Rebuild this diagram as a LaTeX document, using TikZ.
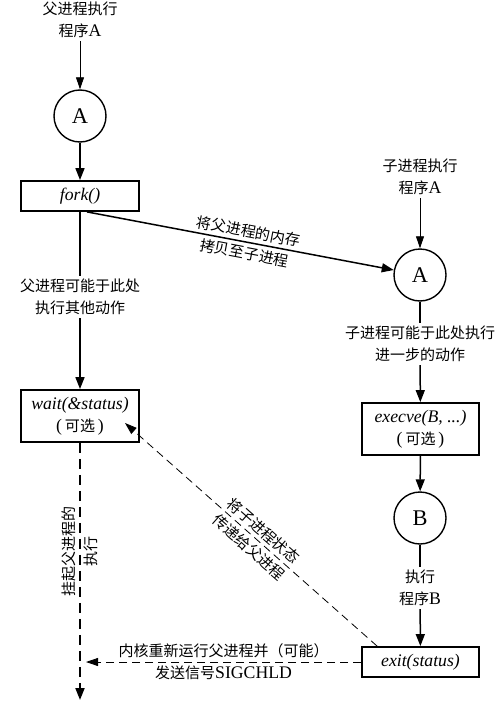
\documentclass[tikz,border=0pt]{standalone}
\usepackage{fontspec}
\setmainfont[Scale=1.18]{Liberation Serif}
\newfontfamily\cjk{Noto Sans CJK SC}
\usetikzlibrary{arrows.meta,calc}
\begin{document}
\begin{tikzpicture}[x=1pt,y=-1pt,
  every node/.style={font=\fontsize{15}{22}\selectfont},
  txt/.style={align=center, inner sep=3pt},
  circ/.style={circle, draw, line width=1.4pt, minimum size=52pt, inner sep=0pt, font=\fontsize{19}{24}\selectfont},
  box/.style={draw, line width=1.8pt, minimum width=118pt, align=center, inner sep=0pt},
  arr/.style={line width=1.5pt, -{Triangle[length=12pt,width=9pt]}},
  ln/.style={line width=1.5pt},
  thinarr/.style={line width=0.8pt, -{Triangle[length=12pt,width=8pt]}},
  dsh/.style={line width=0.8pt, dash pattern=on 8pt off 5pt, -{Triangle[length=12pt,width=8pt]}},
  vdsh/.style={line width=2pt, dash pattern=on 10pt off 6pt, -{Triangle[length=12pt,width=9pt]}},
]
\useasboundingbox (0,0) rectangle (500,701);

% left column
\node[txt] (tA) at (80,20) {{\cjk 父进程执行}\\{\cjk 程序}A};
\node[circ] (cA) at (80,116) {A};
\node[box, minimum height=30pt] (fork) at (80,196) {\itshape fork()};
\node[txt] (l1) at (80,297) {\cjk 父进程可能于此处\\\cjk 执行其他动作};
\node[box, minimum height=52pt] (wait) at (80,416) {{\itshape wait(\&status)}\\(\,{\cjk 可选}\,)};
\node[txt, rotate=90] (susp) at (80,551) {\cjk 挂起父进程的\\\cjk 执行};
\coordinate (endL) at (80,700);
\coordinate (hL) at (86,662);
\coordinate (wtip) at (125,423);

% right column
\node[txt] (tB) at (420,177) {{\cjk 子进程执行}\\{\cjk 程序}A};
\node[circ] (cA2) at (420,275) {A};
\node[txt] (l2) at (420,344) {\cjk 子进程可能于此处执行\\\cjk 进一步的动作};
\node[box, minimum width=117pt, minimum height=52pt] (exec) at (420.5,429) {{\itshape execve(B, ...)}\\(\,{\cjk 可选}\,)};
\node[circ] (cB) at (420,518) {B};
\node[txt] (l3) at (420,588) {{\cjk 执行}\\{\cjk 程序}B};
\node[box, minimum width=117pt, minimum height=30pt] (exit) at (420.5,662) {\itshape exit(status)};

% connectors
\draw[thinarr] (tA) -- (cA);
\draw[arr] (cA) -- (fork);
\draw[ln] (fork) -- (l1);
\draw[arr] (l1) -- (wait);
\draw[vdsh] (wait) -- (endL);

\draw[arr] ([xshift=7pt]fork.south) -- (cA2)
  node[sloped, pos=0.52, txt, inner sep=0pt] {\cjk 将父进程的内存\\\cjk 拷贝至子进程};

\draw[thinarr] (tB) -- (cA2);
\draw[ln] (cA2) -- (l2);
\draw[arr] (l2) -- (exec);
\draw[arr] (exec) -- (cB);
\draw[ln] (cB) -- (l3);
\draw[arr] (l3) -- (exit);

\draw[dsh] ([xshift=16pt]exit.north west) -- (wtip)
  node[sloped, pos=0.48, txt, inner sep=0pt] {\cjk 将子进程状态\\\cjk 传递给父进程};

\draw[dsh] (exit.west) -- (hL)
  node[pos=0.5, txt, inner sep=0pt] {{\cjk 内核重新运行父进程并（可能）}\\{\cjk 发送信号}SIGCHLD};
\end{tikzpicture}
\end{document}
